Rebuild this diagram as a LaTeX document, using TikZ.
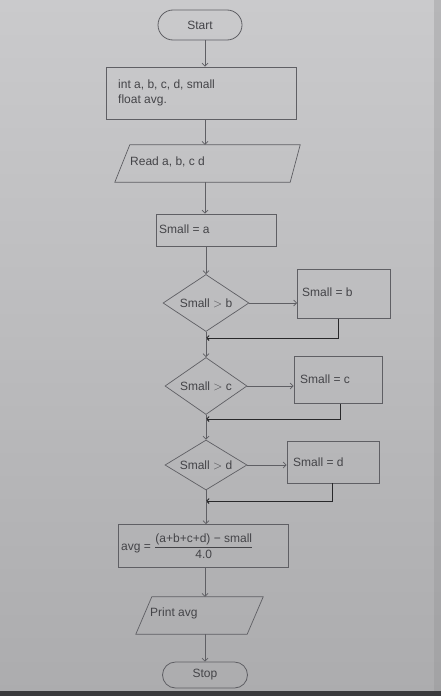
\documentclass[tikz,border=0pt]{standalone}
\usepackage{fontspec}
\setmainfont{Liberation Sans}
\usetikzlibrary{shapes.geometric,shapes.misc,arrows.meta}
\definecolor{papertop}{RGB}{202,202,204}
\definecolor{paperbot}{RGB}{172,172,174}
\definecolor{pencil}{RGB}{95,95,100}
\definecolor{lead}{RGB}{68,68,72}
\definecolor{ink}{RGB}{40,40,42}
\definecolor{strip}{RGB}{58,58,60}
\tikzset{
  every node/.style={font=\fontsize{12}{14.5}\selectfont, text=lead},
  term/.style={rounded rectangle, draw=pencil, line width=0.8pt, inner sep=0pt},
  procbox/.style={rectangle, draw=pencil, line width=0.7pt, inner sep=0pt},
  iobox/.style={rectangle, inner sep=0pt},
  ioline/.style={draw=pencil, line width=0.7pt},
  decbox/.style={diamond, aspect=1.8, draw=pencil, line width=0.7pt, inner sep=0pt},
  flow/.style={draw=pencil, line width=0.7pt, -{Straight Barb[length=3pt,width=6pt]}},
  back/.style={draw=ink, line width=0.9pt, -{Straight Barb[length=2.5pt,width=5pt]}},
  lbl/.style={anchor=west, inner sep=0pt}
}
\begin{document}
\begin{tikzpicture}[x=1pt,y=-1pt]
\useasboundingbox (0,0) rectangle (441,696);
\shade[top color=papertop, bottom color=paperbot] (0,0) rectangle (441,696);
\fill[paperbot!85!black, opacity=0.35] (434,0) rectangle (441,691);
\fill[strip] (0,691) rectangle (441,696);

% terminals
\node[term, minimum width=84pt, minimum height=30pt] (start) at (200,25) {Start};
\node[term, minimum width=85pt, minimum height=26pt] (stop) at (205,675) {Stop};

% declaration box
\node[procbox, minimum width=190pt, minimum height=52pt] (decl) at (201,93) {};
\node[lbl, align=left] (decltext) at (118,93) {int a, b, c, d, small\\float avg.};

% read
\node[iobox, minimum width=185pt, minimum height=37pt] (read) at (207.5,163.5) {};
\draw[ioline] ([xshift=15pt]read.north west) -- (read.north east)
  -- ([xshift=-10pt]read.south east) -- (read.south west) -- cycle;
\node[lbl] (readtext) at (130,162) {Read a, b, c d};

% small = a
\node[procbox, minimum width=120pt, minimum height=32pt] (init) at (216,230) {};
\node[lbl] (inittext) at (159,229) {Small = a};

% decision 1
\node[decbox, minimum width=86pt, minimum height=57pt] (d1) at (206,303) {Small $>$ b};
\node[procbox, minimum width=93pt, minimum height=49pt] (s1) at (344,294) {};
\node[lbl] (s1text) at (302,292) {Small = b};
\coordinate (j1) at (206,338);

% decision 2
\node[decbox, minimum width=82pt, minimum height=57pt] (d2) at (206,386) {Small $>$ c};
\node[procbox, minimum width=88pt, minimum height=47pt] (s2) at (338,380) {};
\node[lbl] (s2text) at (300,379) {Small = c};
\coordinate (j2) at (206,419);

% decision 3
\node[decbox, minimum width=82pt, minimum height=50pt] (d3) at (206,465) {Small $>$ d};
\node[procbox, minimum width=92pt, minimum height=42pt] (s3) at (333,462) {};
\node[lbl] (s3text) at (293,462) {Small = d};
\coordinate (j3) at (206,501);

% average
\node[procbox, minimum width=170pt, minimum height=43pt] (avg) at (203,546) {};
\node[lbl] (avgtext) at (121,546) {avg = $\displaystyle\frac{\hbox{(a+b+c+d) − small}}{\hbox{4.0}}$};

% print
\node[iobox, minimum width=127pt, minimum height=37pt] (print) at (199.5,615.5) {};
\draw[ioline] ([xshift=16pt]print.north west) -- (print.north east)
  -- ([xshift=-16pt]print.south east) -- (print.south west) -- cycle;
\node[lbl] (printtext) at (150,613) {Print avg};

% connectors
\draw[flow] (start.south -| 205,0) -- (decl.north -| 205,0);
\draw[flow] (decl.south -| 205,0) -- (read.north -| 205,0);
\draw[flow] (read.south -| 205,0) -- (init.north -| 205,0);
\draw[flow] (init.south -| 206,0) -- (d1.north);
\draw[flow] (d1.east) -- (s1.west |- d1.east);
\draw[draw=pencil, line width=0.7pt] (d1.south) -- (j1);
\draw[back] (s1.south -| 338,0) |- (j1);
\draw[flow] (j1) -- (d2.north);
\draw[flow] (d2.east) -- (s2.west |- d2.east);
\draw[draw=pencil, line width=0.7pt] (d2.south) -- (j2);
\draw[back] (s2.south -| 340,0) |- (j2);
\draw[flow] (j2) -- (d3.north);
\draw[flow] (d3.east) -- (s3.west |- d3.east);
\draw[draw=pencil, line width=0.7pt] (d3.south) -- (j3);
\draw[back] (s3.south -| 332,0) |- (j3);
\draw[flow] (j3) -- (avg.north -| 206,0);
\draw[flow] (avg.south -| 205,0) -- (print.north -| 205,0);
\draw[flow] (print.south -| 205,0) -- (stop.north);
\end{tikzpicture}
\end{document}
